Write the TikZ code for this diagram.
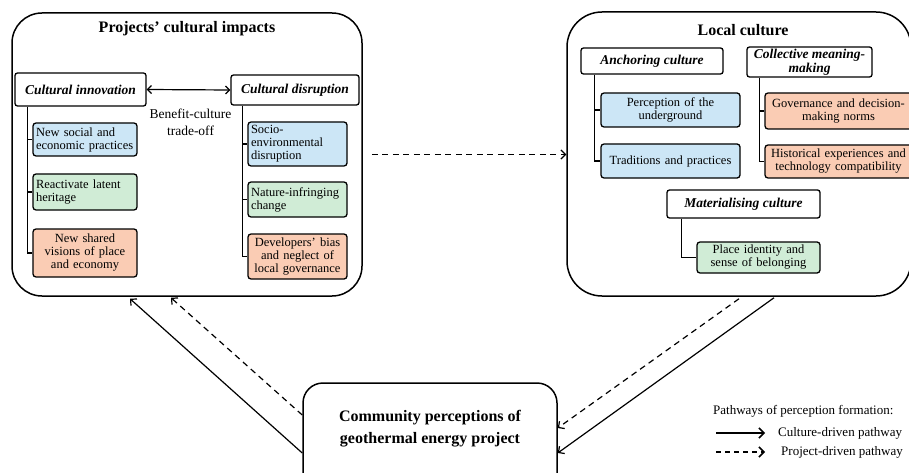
\documentclass[tikz,border=0pt]{standalone}
\usepackage{fontspec}
\setmainfont{Liberation Serif}
\usetikzlibrary{arrows.meta}
\definecolor{cblue}{RGB}{204,230,246}
\definecolor{cgreen}{RGB}{208,236,214}
\definecolor{csalmon}{RGB}{250,204,180}
\begin{document}
\begin{tikzpicture}[x=1pt,y=-1pt,
  bigbox/.style={draw, line width=1.5pt, inner sep=0pt},
  titletext/.style={font=\fontsize{16}{17}\selectfont\bfseries},
  hdr/.style={draw, line width=1.3pt, rounded corners=2.5pt, fill=white, inner sep=0pt, align=center,
    font=\fontsize{13.5}{14}\selectfont\bfseries\itshape},
  leaf/.style={draw, line width=1.3pt, rounded corners=3pt, inner xsep=3pt, inner ysep=0pt,
    font=\fontsize{12.5}{13}\selectfont},
  tree/.style={line width=1.3pt},
  solidarr/.style={line width=1.2pt, -{Straight Barb[length=4.5pt,width=9pt]}},
  dasharr/.style={line width=1.2pt, dash pattern=on 6pt off 4.5pt, -{Straight Barb[length=4.5pt,width=9pt]}},
  legarr/.style={line width=1.5pt, -{Straight Barb[length=5pt,width=10pt]}},
  legtext/.style={anchor=west, font=\fontsize{13}{14}\selectfont, inner sep=0pt}
]
\useasboundingbox (0,0) rectangle (909,473);
\clip (0,0) rectangle (909,473);

% ---------- Left big box ----------
\node[bigbox, rounded corners=30pt, minimum width=350pt, minimum height=283pt] (L) at (187,154.5) {};
\node[titletext] (Lt) at (187,29) {Projects' cultural impacts};

\node[hdr, minimum width=131pt, minimum height=33pt] (innov) at (80.5,89.5) {Cultural innovation};
\node[hdr, minimum width=128pt, minimum height=30pt] (disr) at (295,90) {Cultural disruption};
\draw[line width=1.2pt, {Straight Barb[length=4pt,width=8pt]}-{Straight Barb[length=4pt,width=8pt]}] (innov.east) -- (disr.west);
\node[align=center, font=\fontsize{13.5}{17}\selectfont, inner sep=0pt] (bct) at (190.5,122.5) {Benefit-culture\\trade-off};

\node[leaf, fill=cblue, text width=98pt, minimum height=33pt, align=left] (l1) at (85,139.5) {New social and\\economic practices};
\node[leaf, fill=cgreen, text width=98pt, minimum height=36pt, align=left] (l2) at (85,192) {Reactivate latent\\heritage};
\node[leaf, fill=csalmon, text width=98pt, minimum height=48pt, align=center] (l3) at (85,253) {New shared\\visions of place\\and economy};

\coordinate (lt) at ([xshift=13pt]innov.south west);
\draw[tree] (lt) |- (l3.west);
\draw[tree] (lt |- l1.west) -- (l1.west);
\draw[tree] (lt |- l2.west) -- (l2.west);

\node[leaf, fill=cblue, text width=93pt, minimum height=44pt, align=left] (r1) at (297.5,144) {Socio-\\environmental\\disruption};
\node[leaf, fill=cgreen, text width=93pt, minimum height=35pt, align=left] (r2) at (297.5,199.5) {Nature-infringing\\change};
\node[leaf, fill=csalmon, text width=93pt, minimum height=45pt, align=center] (r3) at (297.5,256.5) {Developers' bias\\and neglect of\\local governance};

\coordinate (rt) at ([xshift=12pt]disr.south west);
\draw[tree] (rt) |- (r3.west);
\draw[tree] (rt |- r1.west) -- (r1.west);
\draw[tree] (rt |- r2.west) -- (r2.west);

% ---------- Right big box ----------
\node[bigbox, rounded corners=35pt, minimum width=344pt, minimum height=284pt] (R) at (739,154) {};
\node[titletext] (Rt) at (743,30) {Local culture};

\node[hdr, minimum width=142pt, minimum height=26pt] (anch) at (652,61) {Anchoring culture};
\node[hdr, minimum width=125pt, minimum height=30pt] (coll) at (809.5,62) {Collective meaning-\\making};
\node[hdr, minimum width=153pt, minimum height=28pt] (mat) at (743.5,204) {Materialising culture};

\node[leaf, fill=cblue, text width=133pt, minimum height=34pt, align=center] (p1) at (670.5,110) {Perception of the\\underground};
\node[leaf, fill=cblue, text width=133pt, minimum height=34pt, align=center] (p2) at (670.5,161) {Traditions and practices};
\coordinate (at) at ([xshift=14pt]anch.south west);
\draw[tree] (at) |- (p2.west);
\draw[tree] (at |- p1.west) -- (p1.west);

\node[leaf, fill=csalmon, text width=141pt, minimum height=36pt, align=center] (g1) at (838.5,111) {Governance and decision-\\making norms};
\node[leaf, fill=csalmon, text width=141pt, minimum height=33pt, align=center] (g2) at (838.5,161.5) {Historical experiences and\\technology compatibility};
\coordinate (ct) at ([xshift=13pt]coll.south west);
\draw[tree] (ct) |- (g2.west);
\draw[tree] (ct |- g1.west) -- (g1.west);

\node[leaf, fill=cgreen, text width=117pt, minimum height=31pt, align=center] (pl) at (758.5,257.5) {Place identity and\\sense of belonging};
\coordinate (mt) at ([xshift=15pt]mat.south west);
\draw[tree] (mt) |- (pl.west);

% ---------- Community box ----------
\node[bigbox, rounded corners=20pt, minimum width=254pt, minimum height=110pt] (C) at (430,438) {};
\node[align=center, inner sep=0pt, font=\fontsize{16}{22}\selectfont\bfseries] (Ct) at (430,429) {Community perceptions of\\geothermal energy project};

% ---------- Pathways ----------
\draw[dasharr] ([xshift=9pt]L.east) -- (R.west |- L.east);
\draw[solidarr] ([yshift=-15pt]C.west) -- ([xshift=-57pt,yshift=-2pt]L.south);
\draw[dasharr] ([yshift=23pt]C.west) -- ([xshift=-16pt,yshift=-1pt]L.south);
\draw[dasharr] ([yshift=-2pt]R.south) -- ([yshift=10pt]C.east);
\draw[solidarr] ([xshift=35pt,yshift=-1pt]R.south) -- ([yshift=-15pt]C.east);

% ---------- Legend ----------
\node[legtext] (lg) at (713,411) {Pathways of perception formation:};
\coordinate (a1s) at (716,433);
\coordinate (a1e) at (765,433);
\coordinate (a2s) at (716,452);
\coordinate (a2e) at (765,452);
\draw[legarr] (a1s) -- (a1e);
\draw[legarr, dash pattern=on 5pt off 4pt] (a2s) -- (a2e);
\node[legtext] (lg1) at (778,433) {Culture-driven pathway};
\node[legtext] (lg2) at (781,452) {Project-driven pathway};
\end{tikzpicture}
\end{document}
